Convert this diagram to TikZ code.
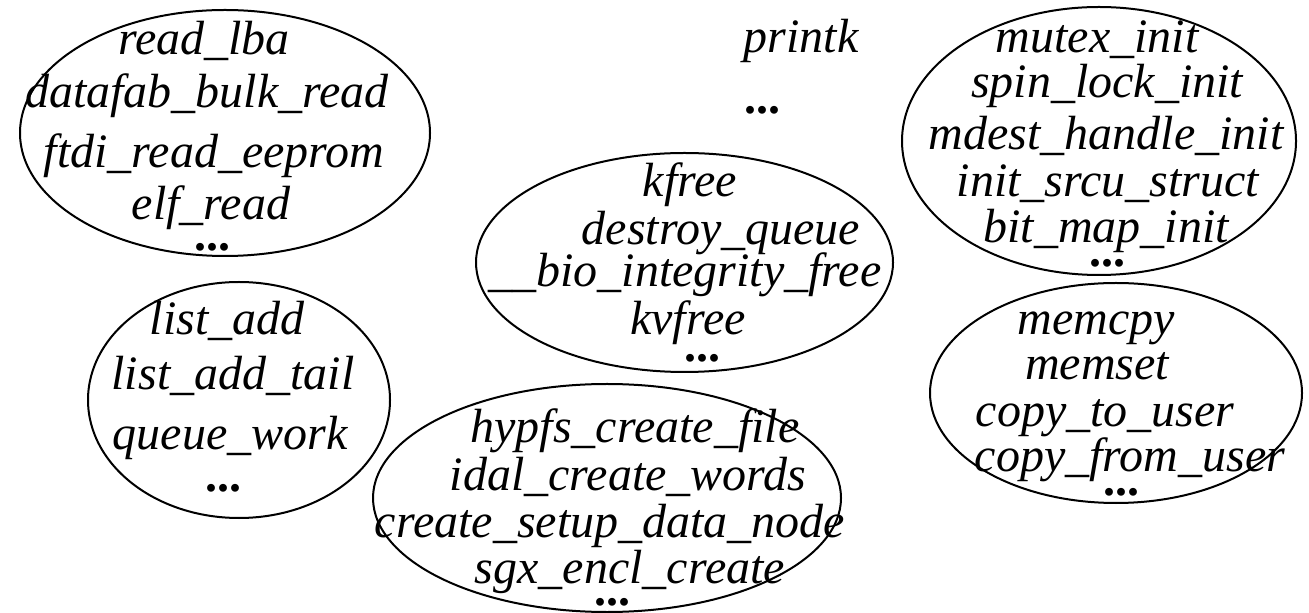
\documentclass[tikz,border=0pt]{standalone}
\usepackage{fontspec}
\setmainfont{Liberation Serif}
\usetikzlibrary{shapes.geometric}
\begin{document}
\begin{tikzpicture}[x=0.5pt,y=-0.5pt,
  oval/.style={ellipse,draw,line width=1pt,inner sep=0pt,outer sep=0pt},
  fn/.style={anchor=base,inner sep=0pt,font=\fontsize{24}{28}\selectfont\itshape},
  more/.style={anchor=center,inner sep=0pt,font=\fontsize{24}{28}\selectfont\bfseries}]
\useasboundingbox (0,0) rectangle (1309,613);
% ellipses
\node[oval,minimum width=205pt,minimum height=123pt] (e1) at (225,133) {};
\node[oval,minimum width=151pt,minimum height=118pt] (e2) at (239,400) {};
\node[oval,minimum width=208.5pt,minimum height=109.5pt] (e3) at (684.5,262.5) {};
\node[oval,minimum width=234pt,minimum height=114pt] (e4) at (607,498) {};
\node[oval,minimum width=197pt,minimum height=134pt] (e5) at (1099,141) {};
\node[oval,minimum width=186pt,minimum height=110pt] (e6) at (1116,393) {};
% group 1
\node[fn] (t1a) at (204,55) {read\_lba};
\node[fn] (t1b) at (207,108) {datafab\_bulk\_read};
\node[fn] (t1c) at (214,168) {ftdi\_read\_eeprom};
\node[fn] (t1d) at (211,220) {elf\_read};
\node[more] (t1e) at (212,247) {...};
% group 2
\node[fn] (t2a) at (227,335) {list\_add};
\node[fn] (t2b) at (233,390) {list\_add\_tail};
\node[fn] (t2c) at (230,450) {queue\_work};
\node[more] (t2d) at (223,488) {...};
% group 3
\node[fn] (t3a) at (690,197) {kfree};
\node[fn] (t3b) at (721,245) {destroy\_queue};
\node[fn] (t3c) at (685,287) {\_\_bio\_integrity\_free};
\node[fn] (t3d) at (688,335) {kvfree};
\node[more] (t3e) at (702,358) {...};
% group 4
\node[fn] (t4a) at (635,443) {hypfs\_create\_file};
\node[fn] (t4b) at (628,490) {idal\_create\_words};
\node[fn] (t4c) at (610,537) {create\_setup\_data\_node};
\node[fn] (t4d) at (630,583) {sgx\_encl\_create};
\node[more] (t4e) at (612,602) {...};
% group 5
\node[fn] (t5a) at (1097,53) {mutex\_init};
\node[fn] (t5b) at (1107,98) {spin\_lock\_init};
\node[fn] (t5c) at (1106,150) {mdest\_handle\_init};
\node[fn] (t5d) at (1108,197) {init\_srcu\_struct};
\node[fn] (t5e) at (1106,243) {bit\_map\_init};
\node[more] (t5f) at (1107,263) {...};
% group 6
\node[fn] (t6a) at (1096,335) {memcpy};
\node[fn] (t6b) at (1097,380) {memset};
\node[fn] (t6c) at (1105,427) {copy\_to\_user};
\node[fn] (t6d) at (1130,472) {copy\_from\_user};
\node[more] (t6e) at (1121,492) {...};
% printk
\node[fn] (p1) at (801,53) {printk};
\node[more] (p2) at (762,110) {...};
\end{tikzpicture}
\end{document}
